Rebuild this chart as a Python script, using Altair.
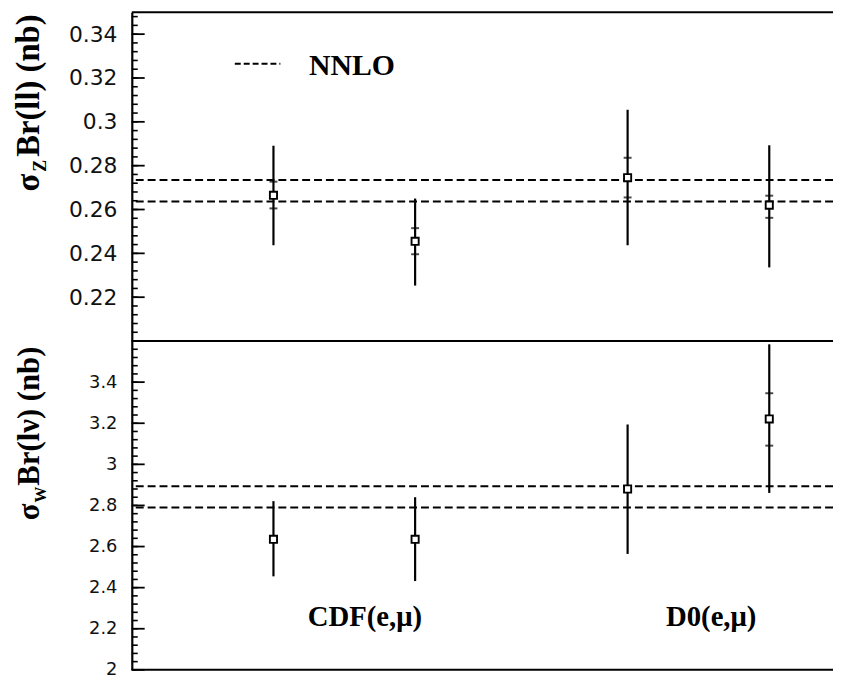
import altair as alt
import pandas as pd

# ---------------- data ----------------
meas_x = [1.0, 2.0, 3.5, 4.5]          # CDF e, CDF mu, D0 e, D0 mu

# sigma_Z * Br(ll)  [nb]
z_val = [0.2665, 0.2455, 0.2745, 0.2620]
z_tot_lo = [0.2437, 0.2253, 0.2437, 0.2336]
z_tot_hi = [0.2891, 0.2650, 0.3055, 0.2893]
z_stat_lo = [0.2605, 0.2396, 0.2655, 0.2562]
z_stat_hi = [0.2727, 0.2515, 0.2836, 0.2663]
z_nnlo = [0.2637, 0.2735]

# sigma_W * Br(l nu)  [nb]
w_val = [2.635, 2.635, 2.880, 3.221]
w_tot_lo = [2.455, 2.432, 2.564, 2.861]
w_tot_hi = [2.821, 2.840, 3.194, 3.584]
w_stat_lo = [2.622, 2.622, 2.867, 3.091]
w_stat_hi = [2.648, 2.648, 2.893, 3.346]
w_nnlo = [2.790, 2.893]

# axes
z_domain = [0.20, 0.35]
z_tick_labels = [0.22, 0.24, 0.26, 0.28, 0.30, 0.32, 0.34]
z_major = [0.20] + z_tick_labels
z_minor = [round(0.20 + 0.004 * i, 3) for i in range(38)]

w_domain = [2.0, 3.6]
w_tick_labels = [2.0, 2.2, 2.4, 2.6, 2.8, 3.0, 3.2, 3.4]
w_major = w_tick_labels + [3.6]
w_minor = [round(2.0 + 0.04 * i, 2) for i in range(40)]

exp_labels = ["CDF(e,\u03bc)", "D0(e,\u03bc)"]
exp_label_x = [1.645, 4.09]

legend_text = "NNLO"

W = 708
H = 332
SERIF = "Liberation Serif"
TX = -94


def one(v):
    return pd.DataFrame({"a": [v]})


def panel(vals, lo, hi, slo, shi, nnlo, dom, labels, majors, minors,
          lab_size, t_main, t_sub, t_size, sub_size, extra):
    df = pd.DataFrame({"x": meas_x, "v": vals, "lo": lo, "hi": hi,
                       "slo": slo, "shi": shi})
    xs = alt.Scale(domain=[0, 4.95], nice=False, zero=False)
    ys = alt.Scale(domain=dom, nice=False, zero=False)
    X = alt.X("x:Q", scale=xs, axis=None)
    base = alt.Chart(df)

    yaxis = alt.Axis(orient="left", values=labels, ticks=False, grid=False,
                     domain=True, domainColor="black", domainWidth=2.2,
                     labelFont="DejaVu Sans", labelFontSize=lab_size,
                     labelColor="#111", labelPadding=15, title=None,
                     format="~g", labelOverlap=False)

    def Y(f):
        return alt.Y(f, scale=ys, axis=yaxis)

    bars = base.mark_rule(color="black", strokeWidth=2.2).encode(
        x=X, y=Y("lo:Q"), y2="hi:Q")

    nn = alt.Chart(pd.DataFrame({"n": nnlo})).mark_rule(
        color="black", strokeWidth=2, strokeDash=[8, 4]).encode(y=Y("n:Q"))

    maj = alt.Chart(pd.DataFrame({"t": majors})).mark_rule(
        color="black", strokeWidth=1.8).encode(
        y=Y("t:Q"), x=alt.value(0), x2=alt.value(13))
    mino = alt.Chart(pd.DataFrame({"t": minors})).mark_rule(
        color="black", strokeWidth=1.6).encode(
        y=Y("t:Q"), x=alt.value(0), x2=alt.value(6))

    st_lo = base.mark_tick(orient="horizontal", size=8, thickness=2,
                           color="black").encode(x=X, y=Y("slo:Q"))
    st_hi = base.mark_tick(orient="horizontal", size=8, thickness=2,
                           color="black").encode(x=X, y=Y("shi:Q"))

    sq = base.mark_square(size=52, fill="white", stroke="black",
                          strokeWidth=1.9, opacity=1).encode(x=X, y=Y("v:Q"))

    tmain = alt.Chart(one(t_main)).mark_text(
        angle=270, align="left", baseline="alphabetic", font=SERIF,
        fontWeight="bold", fontSize=t_size, color="black").encode(
        text="a:N", x=alt.value(TX), y=alt.value(146))
    tsub = alt.Chart(one(t_sub)).mark_text(
        angle=270, align="center", baseline="alphabetic", font=SERIF,
        fontWeight="bold", fontSize=sub_size, color="black").encode(
        text="a:N", x=alt.value(TX + 7), y=alt.value(155))
    tsig = alt.Chart(one("\u03c3")).mark_text(
        angle=270, align="left", baseline="alphabetic", font=SERIF,
        fontWeight="bold", fontSize=t_size, color="black").encode(
        text="a:N", x=alt.value(TX), y=alt.value(181))

    layers = [bars, nn, st_lo, st_hi, sq, maj, mino, tmain, tsub, tsig]
    layers += extra(xs, ys)
    return alt.layer(*layers).properties(width=W, height=H)


def top_extra(xs, ys):
    frame = alt.Chart(one(0)).mark_rule(color="black", strokeWidth=2).encode(
        x=alt.value(0), x2=alt.value(W), y=alt.value(0))
    leg_line = alt.Chart(one(0)).mark_rule(
        color="black", strokeWidth=2, strokeDash=[6, 3]).encode(
        x=alt.value(104), x2=alt.value(150), y=alt.value(52))
    leg_txt = alt.Chart(one(legend_text)).mark_text(
        align="left", baseline="alphabetic", font=SERIF, fontWeight="bold",
        fontSize=30, color="black").encode(
        text="a:N", x=alt.value(179), y=alt.value(63))
    return [frame, leg_line, leg_txt]


def bottom_extra(xs, ys):
    mid = alt.Chart(one(0)).mark_rule(color="black", strokeWidth=2).encode(
        x=alt.value(0), x2=alt.value(W), y=alt.value(0))
    bot = alt.Chart(one(0)).mark_rule(color="black", strokeWidth=2).encode(
        x=alt.value(0), x2=alt.value(W), y=alt.value(H))
    lab = alt.Chart(pd.DataFrame({"lx": exp_label_x, "lab": exp_labels})).mark_text(
        align="center", baseline="alphabetic", font=SERIF, fontWeight="bold",
        fontSize=29, color="black").encode(
        x=alt.X("lx:Q", scale=xs, axis=None), y=alt.value(288), text="lab:N")
    return [mid, bot, lab]


top = panel(z_val, z_tot_lo, z_tot_hi, z_stat_lo, z_stat_hi, z_nnlo,
            z_domain, z_tick_labels, z_major, z_minor, 22,
            "Br(ll) (nb)", "Z", 33, 18, top_extra)
bottom = panel(w_val, w_tot_lo, w_tot_hi, w_stat_lo, w_stat_hi, w_nnlo,
               w_domain, w_tick_labels, w_major, w_minor, 18,
               "Br(l\u03bd) (nb)", "W", 31, 16, bottom_extra)

chart = alt.vconcat(top, bottom, spacing=0, bounds="flush").properties(
    padding={"left": 4, "top": 0, "right": 0, "bottom": 0},
    background="white",
).configure_view(stroke=None)

chart.save("out.html", embed_options={"renderer": "svg", "actions": False})
